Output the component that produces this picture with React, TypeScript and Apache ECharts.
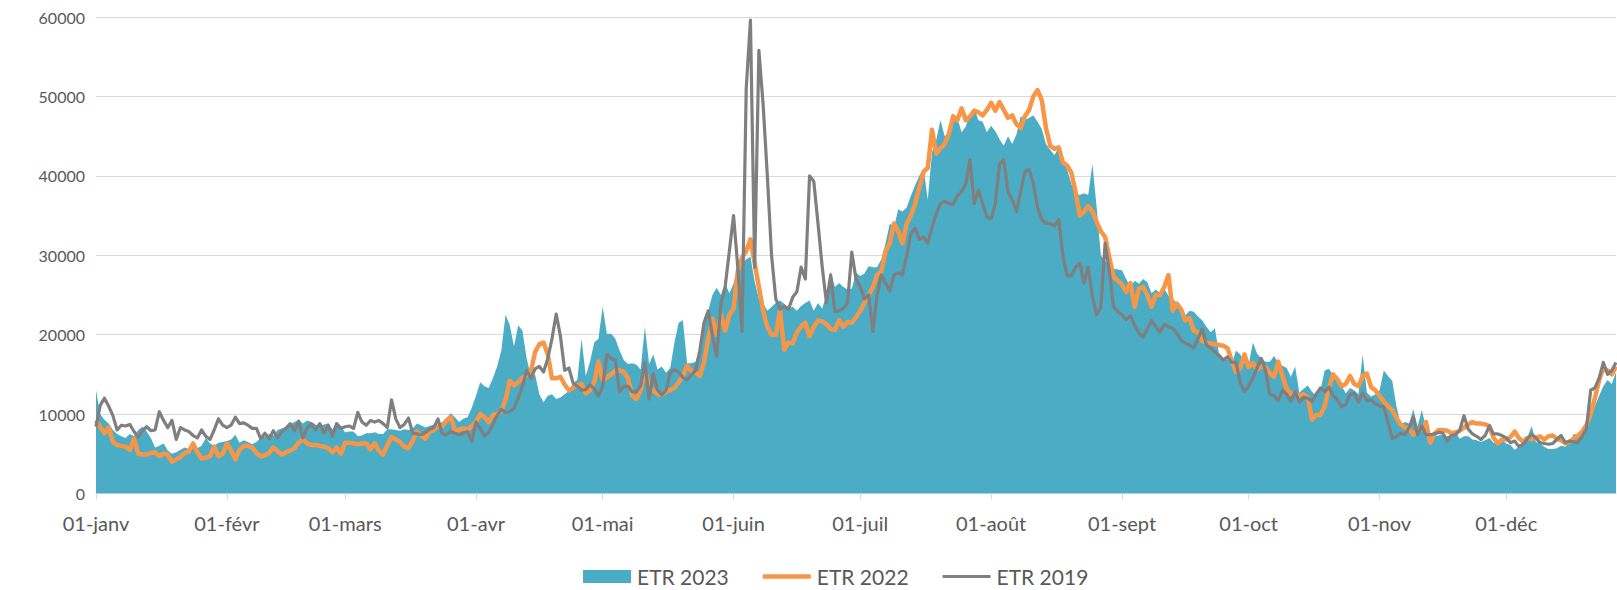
import React, { useEffect, useRef } from "react";
import * as echarts from "echarts";

const MONTHS = ["janv", "févr", "mars", "avr", "mai", "juin", "juil", "août", "sept", "oct", "nov", "déc"];
const YEAR = 2023;
const DAY_COUNT = 361;

const SERIES_NAMES = ["ETR 2023", "ETR 2022", "ETR 2019"];

const ETR2023 = [
  13000, 10000, 9300, 8800, 8000, 7500, 7200, 7000, 7500, 7200,
  8000, 8400, 7800, 7000, 5800, 6000, 6300, 5400, 5000, 5200,
  5500, 5800, 5600, 5700, 5700, 6000, 7000, 6300, 6000, 6400,
  6500, 6600, 6800, 7400, 6400, 6700, 6500, 6200, 6500, 7000,
  7200, 7500, 7300, 8000, 8200, 8400, 8700, 9000, 9300, 8800,
  9200, 9000, 8700, 8500, 8700, 8800, 8100, 8900, 8400, 7700,
  7800, 7800, 7200, 7300, 7600, 7600, 7700, 7500, 7500, 8100,
  8100, 8000, 7900, 8100, 8000, 8200, 8800, 8600, 8300, 8500,
  8700, 8700, 9000, 9500, 10100, 9600, 9000, 9400, 9600, 10800,
  12300, 14000, 13500, 13300, 14500, 16000, 18000, 22500, 21200, 18500,
  21200, 20500, 17000, 14800, 15000, 12500, 11500, 12300, 12500, 11900,
  12100, 12500, 12900, 13900, 14300, 19500, 14800, 16600, 19000, 19500,
  23500, 20100, 20100, 19500, 18000, 16800, 16300, 16400, 16200, 15600,
  21000, 16300, 17500, 15600, 16000, 15200, 15800, 19000, 21500, 21800,
  16400, 16400, 16600, 18000, 21000, 23000, 25000, 25900, 25000, 26500,
  25200, 26400, 28500, 29000, 29500, 29800, 26700, 24500, 24000, 23000,
  23500, 24000, 24300, 23900, 23300, 23500, 23000, 23600, 24000, 24300,
  23000, 24000, 23300, 25000, 28000, 26000, 26500, 26000, 25700, 25800,
  27800, 27400, 27700, 28600, 28500, 28500, 29500, 31500, 34000, 33500,
  35800, 35500, 36000, 37500, 38800, 40000, 41000, 37000, 43000, 44500,
  47000, 45000, 45500, 47700, 47300, 45500, 46200, 47800, 48500, 47000,
  46800, 45500, 46300, 45600, 44600, 43800, 45000, 44000, 45200, 47500,
  47000, 47300, 47600, 46800, 45900, 44000, 43300, 42600, 43600, 41800,
  40800, 39000, 37800, 37600, 37800, 37600, 41500, 36000, 30000, 29300,
  28700, 28300, 28200, 28100, 27000, 26000, 26800, 26400, 27000, 26600,
  25200, 25700, 25200, 25800, 24900, 24600, 23900, 23000, 22400, 23000,
  22900, 22300, 21800, 21000, 20300, 20800, 17500, 16700, 16900, 16300,
  18000, 17500, 16500, 16200, 19000, 17600, 17000, 16600, 16600, 17300,
  16500, 16100, 15800, 14700, 16000, 12700, 13200, 13600, 12800, 12300,
  13000, 15500, 15700, 14900, 14300, 13600, 12600, 13300, 13000, 12500,
  17500, 12700, 12200, 12500, 13000, 15500, 14800, 14200, 11000, 8700,
  9000, 8800, 10600, 8400, 10500, 8300, 7500, 7200, 7300, 7400,
  7200, 7400, 7700, 6900, 7200, 7200, 6800, 6700, 6500, 6700,
  7000, 6400, 6200, 6700, 6300, 6100, 5500, 5900, 6400, 7000,
  8500, 6500, 6300, 5900, 5600, 5600, 5700, 6000, 5900, 6500,
  7500, 7400, 7600, 8300, 9700, 11000, 12300, 13500, 14300, 13800, 15300,
];

const ETR2022 = [
  9200, 8400, 7600, 8300, 6500, 6100, 6000, 5900, 5500, 6900,
  5000, 4900, 4900, 5100, 5200, 4700, 5000, 4900, 4000, 4300,
  4600, 5100, 5300, 6300, 5200, 4400, 4500, 4700, 5900, 4700,
  5000, 6300, 5400, 4300, 5500, 6000, 6000, 5800, 5100, 4700,
  4800, 5100, 5800, 5300, 4900, 5200, 5400, 5700, 6400, 6800,
  6300, 6100, 6100, 6000, 5900, 5700, 5200, 5800, 5000, 6400,
  6400, 6300, 6200, 6300, 6300, 5600, 6300, 5400, 4900, 6100,
  7100, 6800, 6500, 5900, 5700, 6600, 7800, 7300, 6900, 7800,
  8000, 8400, 8400, 9200, 9600, 8000, 8000, 8200, 8000, 8500,
  9000, 10000, 9600, 9000, 9900, 10000, 10400, 11800, 14200, 13600,
  14000, 14600, 14800, 15400, 17800, 18800, 19000, 17500, 14500, 14500,
  14700, 13700, 13000, 13300, 13600, 13800, 12600, 13000, 14000, 16600,
  14200, 14600, 15000, 15500, 15500, 15300, 14500, 12300, 11900, 13000,
  15500, 13500, 13000, 12500, 12400, 12800, 13000, 13300, 14000, 14800,
  16100, 15400, 15200, 14800, 16500, 19500, 22000, 20000, 22500, 20500,
  22500, 23300, 28000, 29700, 30500, 32000, 29000, 26000, 23000, 21000,
  20000, 20000, 23000, 18100, 19000, 18900, 20300, 21000, 21500, 19800,
  21000, 21800, 21700, 21300, 20700, 20600, 21800, 21000, 21600, 21500,
  22200, 23000, 24000, 25000, 26000, 27500, 28000, 30500, 31500, 34000,
  33000, 31500, 34000, 35000, 36500, 38500, 40500, 41000, 45800, 42800,
  43500, 44000, 45300, 47500, 47000, 48500, 47000, 47500, 48200, 48000,
  47600, 48300, 49200, 48200, 49300, 48300, 47300, 47600, 46500, 46000,
  47500, 48300, 50000, 50800, 49500, 46000, 43800, 43400, 43600, 41700,
  41300, 40400, 38000, 35000, 35500, 36200, 35500, 34200, 33000, 32300,
  29700, 27300, 26800, 26300, 25400, 26500, 23500, 25800, 26000, 25000,
  23500, 25000, 25000, 26000, 27500, 23000, 23900, 23200, 21800, 22100,
  20500, 20300, 19200, 19000, 18900, 18800, 18700, 18600, 18300, 16700,
  15300, 15800, 17500, 15900, 16400, 15600, 16000, 15900, 15200, 14700,
  16600, 14800, 13200, 12600, 12500, 12300, 12500, 12100, 9300, 9900,
  9900, 11000, 13300, 15000, 14400, 13500, 13800, 14800, 13800, 13500,
  14800, 15100, 13400, 13000, 12300, 11600, 11000, 10500, 9500, 8700,
  8300, 8200, 7400, 8000, 8100, 9000, 6400, 7500, 8000, 8000,
  7900, 7600, 7700, 7900, 8300, 8700, 9000, 8800, 8800, 8700,
  8500, 7000, 6300, 6800, 6800, 7100, 7800, 7000, 6500, 7000,
  6800, 7000, 7200, 6800, 7200, 7300, 6900, 6700, 6300, 6500,
  6900, 7300, 7800, 8600, 10000, 12000, 14300, 15800, 15500, 15000, 16000,
];

const ETR2019 = [
  8400, 11100, 12000, 11000, 9800, 8000, 8600, 8500, 8700, 7800,
  7100, 7900, 8400, 7900, 8000, 10300, 9200, 8300, 9200, 6800,
  8300, 8000, 7800, 7300, 7000, 8000, 7200, 6800, 8000, 9400,
  8600, 8300, 8600, 9600, 8800, 8900, 8600, 8200, 8200, 6900,
  7600, 6900, 7900, 7000, 7800, 8200, 8800, 7900, 9100, 7000,
  8200, 8800, 8000, 8800, 7600, 8600, 7200, 8800, 8200, 8400,
  8500, 8200, 10200, 9000, 8600, 9200, 9000, 9200, 8800, 8300,
  11800, 9400, 8300, 8700, 9500, 7600, 7500, 7400, 7700, 8100,
  8300, 9400, 7500, 7400, 7800, 7600, 7400, 7600, 7800, 6600,
  9000, 8200, 7200, 7700, 8700, 9800, 10600, 10200, 10300, 10700,
  12000, 13500, 15500, 14500, 15700, 16000, 15300, 17000, 19500, 22600,
  19800, 15500, 15800, 13900, 13500, 13000, 13100, 13700, 13200, 12300,
  13500, 17500, 17000, 16800, 12800, 13500, 13500, 12800, 12800, 13600,
  16500, 11900, 15100, 13000, 12400, 13000, 15200, 15600, 15300, 14600,
  14300, 14900, 15500, 18000, 21500, 23000, 19800, 17300, 23800, 26000,
  30500, 35000, 28500, 20400, 51000, 59600, 28500, 55800, 49000, 40000,
  30000, 24500, 23200, 23600, 23200, 24700, 25400, 28500, 27000, 40000,
  39300, 34000, 28500, 24000, 27500, 22900, 23000, 23300, 24000, 30400,
  27000, 26000, 24500, 25000, 20400, 25000, 27500, 26500, 25500, 27500,
  27800, 27500, 30000, 32700, 33400, 32000, 32300, 31500, 33500, 35200,
  36500, 36800, 36500, 36400, 37500, 38000, 39000, 42000, 36500, 38200,
  36500, 34800, 34600, 36500, 41500, 42000, 38000, 37000, 35500, 38000,
  40500, 40800, 39000, 36000, 34500, 34000, 34000, 33700, 34500, 30000,
  27400, 27400, 28500, 29000, 26500, 28500, 24800, 22500, 23500, 31500,
  28000, 23500, 22900, 22500, 21900, 22400, 21200, 20200, 19700, 20700,
  21800, 21000, 20300, 21300, 21000, 20800, 20200, 19300, 18900, 18700,
  18300, 19500, 20700, 18700, 18300, 17800, 17400, 16800, 17200, 16500,
  16500, 14000, 12800, 13500, 14500, 15800, 17000, 15500, 12500, 12300,
  11700, 13000, 12500, 11600, 12800, 11500, 12100, 12000, 11600, 12500,
  13300, 12800, 13400, 12300, 11800, 10900, 11200, 12500, 12600, 11500,
  12700, 11700, 11800, 11300, 11000, 10900, 9000, 6900, 7200, 7600,
  7400, 8300, 9600, 7400, 8500, 7400, 7400, 7500, 7700, 7600,
  6600, 7300, 7400, 8000, 9800, 8100, 7500, 7200, 6800, 7300,
  8500, 7500, 7500, 7300, 7000, 6400, 6600, 5900, 6200, 6900,
  7500, 7000, 6400, 6300, 6200, 6300, 6800, 7300, 6400, 6600,
  6500, 6400, 7200, 8200, 13000, 13300, 14500, 16500, 15000, 15500, 16500,
];

const Y_MIN = 0;
const Y_MAX = 60000;
const Y_STEP = 10000;

function buildCategories(): string[] {
  const out: string[] = [];
  for (let d = 0; d < DAY_COUNT; d++) {
    const dt = new Date(Date.UTC(YEAR, 0, 1 + d));
    const dd = String(dt.getUTCDate()).padStart(2, "0");
    out.push(dd + "-" + MONTHS[dt.getUTCMonth()]);
  }
  return out;
}

const FONT = "Lato, 'Open Sans', sans-serif";
const TEXT = "#595959";
const GRID = "#D9D9D9";
const ICON_W = 48;
const ICON_H = 13;

function lineIcon(th: number): string {
  const a = (ICON_H - th) / 2;
  const b = (ICON_H + th) / 2;
  return (
    "path://M0,0 L0.01,0 L0,0.01 Z " +
    `M0,${a} L${ICON_W},${a} L${ICON_W},${b} L0,${b} Z ` +
    `M${ICON_W},${ICON_H} L${ICON_W - 0.01},${ICON_H} L${ICON_W},${ICON_H - 0.01} Z`
  );
}

export default function App() {
  const ref = useRef<HTMLDivElement>(null);
  useEffect(() => {
    if (!ref.current) return;
    const chart = echarts.init(ref.current, null, { renderer: "svg" });
    const categories = buildCategories();
    const isMonthStart = (_i: number, v: string) => v.startsWith("01-");
    chart.setOption({
      animation: false,
      backgroundColor: "#ffffff",
      grid: { left: 96, right: 1, top: 17, bottom: 96.5 },
      legend: {
        left: 583,
        top: 566,
        padding: 0,
        itemWidth: ICON_W,
        itemHeight: ICON_H,
        itemGap: 34,
        textStyle: { color: TEXT, fontSize: 21, fontFamily: FONT, padding: [0, 0, 0, 1] },
        data: [
          { name: SERIES_NAMES[0], icon: "rect" },
          { name: SERIES_NAMES[1], icon: lineIcon(4.5) },
          { name: SERIES_NAMES[2], icon: lineIcon(3.2) },
        ],
      },
      xAxis: {
        type: "category",
        data: categories,
        boundaryGap: false,
        axisLine: { lineStyle: { color: GRID, width: 1 } },
        axisTick: { show: true, interval: isMonthStart, length: 6, lineStyle: { color: GRID } },
        axisLabel: {
          interval: isMonthStart,
          color: TEXT,
          fontSize: 20,
          fontFamily: FONT,
          margin: 19,
        },
        splitLine: { show: false },
      },
      yAxis: {
        type: "value",
        min: Y_MIN,
        max: Y_MAX,
        interval: Y_STEP,
        axisLine: { show: false },
        axisTick: { show: false },
        axisLabel: {
          color: TEXT,
          fontSize: 16,
          fontFamily: FONT,
          margin: 11,
          formatter: (v: number) => String(v),
        },
        splitLine: { lineStyle: { color: GRID, width: 1 } },
      },
      series: [
        {
          name: SERIES_NAMES[0],
          type: "line",
          data: ETR2023,
          symbol: "none",
          color: "#4BACC6",
          lineStyle: { width: 0 },
          areaStyle: { color: "#4BACC6", opacity: 1 },
          z: 1,
        },
        {
          name: SERIES_NAMES[1],
          type: "line",
          data: ETR2022,
          symbol: "none",
          color: "#F79646",
          lineStyle: { width: 4.5, color: "#F79646", join: "round" },
          z: 2,
        },
        {
          name: SERIES_NAMES[2],
          type: "line",
          data: ETR2019,
          symbol: "none",
          color: "#7F7F7F",
          lineStyle: { width: 3.2, color: "#7F7F7F", join: "round" },
          z: 3,
        },
      ],
    });
    return () => chart.dispose();
  }, []);
  return (
    <div
      ref={ref}
      style={{ position: "fixed", left: 0, top: 0, width: 1617, height: 590 }}
    />
  );
}
